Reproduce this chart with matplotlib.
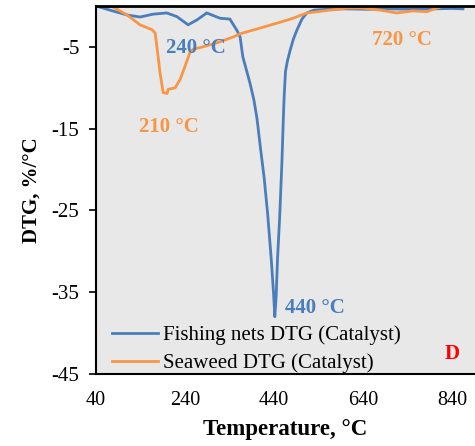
import matplotlib
matplotlib.use('Agg')
import matplotlib.pyplot as plt

plt.rcParams['font.family'] = ['Liberation Serif', 'DejaVu Serif']
plt.rcParams['axes.unicode_minus'] = False

# Fishing nets DTG (Catalyst)
nets_temp = [40, 71, 110, 139, 168, 199, 222, 247, 267, 289, 319, 341, 357, 364, 370,
             386, 395, 402, 410, 418, 426, 434, 439, 442, 445, 448, 453, 458, 461,
             463, 466, 470, 476, 484, 492, 503, 514, 530, 560, 600, 650, 700, 750,
             800, 840, 865]
nets_dtg = [0, -0.5, -1.1, -1.35, -1.0, -0.85, -1.3, -2.3, -1.7, -0.85, -1.5, -1.6, -3.0,
            -3.8, -6.2, -9.4, -11.5, -13.8, -17.5, -21.0, -25.5, -31.0, -35.0, -38.0,
            -35.5, -31.0, -25.7, -19.0, -14.0, -11.0, -8.0, -6.8, -5.5, -4.0, -2.9,
            -1.6, -0.85, -0.5, -0.4, -0.35, -0.4, -0.35, -0.4, -0.35, -0.3, -0.35]

# Seaweed DTG (Catalyst)
weed_temp = [40, 78, 110, 139, 166, 173, 177, 184, 191, 200, 202, 218, 229, 240, 251,
             258, 280, 312, 348, 364, 370, 415, 453, 483, 514, 537, 566, 604, 640,
             678, 716, 752, 784, 806, 829, 860]
weed_dtg = [0, -0.1, -1.1, -2.3, -2.9, -3.3, -5.0, -8.2, -10.6, -10.7, -10.2, -10.0,
            -9.0, -7.4, -5.7, -5.3, -5.0, -4.5, -3.8, -3.4, -3.3, -2.6, -2.0, -1.5,
            -0.85, -0.7, -0.5, -0.25, -0.25, -0.5, -0.85, -0.6, -0.7, -0.25, 0.1, 0.3]

x_ticks = [40, 240, 440, 640, 840]
y_ticks = [-5, -15, -25, -35, -45]

blue = '#4a7ebb'
orange = '#f79646'

fig = plt.figure(figsize=(4.75, 4.46), dpi=100)
ax = fig.add_axes([96 / 475, 72 / 446, 379 / 475, 368 / 446])
ax.set_facecolor('#e8e8e8')

ax.plot(nets_temp, nets_dtg, color=blue, lw=2.0, label='Fishing nets DTG (Catalyst)')
ax.plot(weed_temp, weed_dtg, color=orange, lw=2.0, label='Seaweed DTG (Catalyst)')

ax.set_xlim(40, 892)
ax.set_ylim(-45, 0)
ax.set_xticks(x_ticks)
ax.set_yticks(y_ticks)
ax.tick_params(axis='y', direction='out', length=5, width=1.2, labelsize=15, pad=7)
ax.tick_params(axis='x', length=0, labelsize=14.5, pad=12)

for s in ['left', 'bottom']:
    ax.spines[s].set_linewidth(1.5)
ax.spines['top'].set_linewidth(2.0)
ax.spines['right'].set_visible(False)

ax.set_xlabel('Temperature, °C', fontsize=16.5, fontweight='bold', labelpad=7)
ax.set_ylabel('DTG, %/°C', fontsize=15, fontweight='bold', labelpad=7)

ax.text(197, -5.1, '240 °C', color=blue, fontsize=15, fontweight='bold', va='center')
ax.text(137, -14.8, '210 °C', color=orange, fontsize=15, fontweight='bold', va='center')
ax.text(465, -36.9, '440 °C', color=blue, fontsize=15, fontweight='bold', va='center')
ax.text(660, -4.2, '720 °C', color=orange, fontsize=15, fontweight='bold', va='center')
ax.text(840, -42.6, 'D', color='red', fontsize=15, fontweight='bold', ha='center', va='center')

ax.legend(loc='lower left', bbox_to_anchor=(0.02, -0.02), frameon=False, fontsize=15,
          handlelength=2.2, handletextpad=0.25, borderaxespad=0.0, labelspacing=0.4)

fig.savefig('out.png', dpi=100)
